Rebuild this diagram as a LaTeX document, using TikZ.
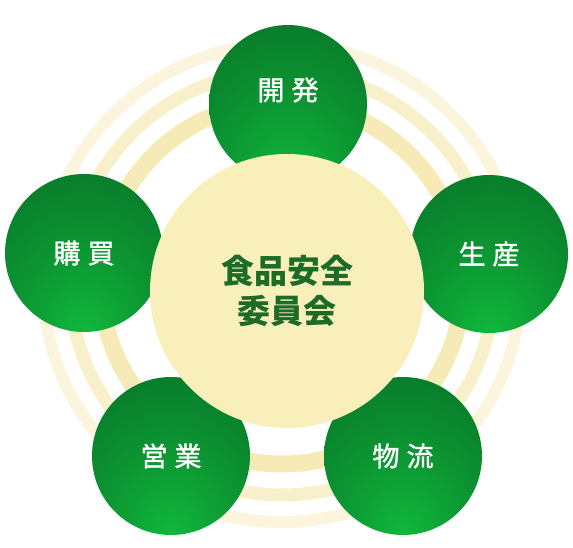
\documentclass[tikz,border=0pt]{standalone}
\usepackage{fontspec}
\newfontfamily\cjk{Noto Sans CJK JP}
\newfontfamily\cjkmid[FakeBold=1.3]{Noto Sans CJK JP}
\definecolor{deptlight}{RGB}{16,184,60}
\definecolor{deptmid}{RGB}{12,150,50}
\definecolor{deptdark}{RGB}{9,124,43}
\definecolor{boardfill}{RGB}{248,239,186}
\definecolor{boardtext}{RGB}{28,108,40}
\definecolor{ringA}{RGB}{246,235,182}
\definecolor{ringB}{RGB}{248,240,202}
\definecolor{ringC}{RGB}{250,245,220}
\pgfdeclareradialshading{deptball}{\pgfpoint{0bp}{-26bp}}{color(0bp)=(deptlight); color(20bp)=(deptmid); color(38bp)=(deptdark); color(70bp)=(deptdark)}
\tikzstyle{deptname}=[text=white, font=\cjkmid\fontsize{27}{27}\selectfont]
\tikzstyle{dept}=[circle, inner sep=0pt, minimum size=158pt, shading=deptball, deptname]
\tikzstyle{board}=[circle, inner sep=0pt, minimum size=274pt, fill=boardfill, text=boardtext,
    align=center, font=\cjk\bfseries\fontsize{33}{40}\selectfont]
\tikzstyle{ring}=[draw, fill=none]
\newcommand{\dept}{\node[dept]}

\begin{document}
\begin{tikzpicture}[x=1pt, y=-1pt]
\useasboundingbox (0,0) rectangle (573,547);
\coordinate (rc) at (282,283);
\draw[ring, ringC, line width=12pt] (rc) circle (239);
\draw[ring, ringB, line width=13pt] (rc) circle (212);
\draw[ring, ringA, line width=17pt] (rc) circle (181);
\dept (dev) at (288,104) [label={[deptname, yshift=14pt]center:開\hspace{7pt}発}] {};
\dept (prod) at (489,254) {生\hspace{7pt}産};
\dept (logi) at (403,456) {物\hspace{7pt}流};
\dept (sales) at (171,456) {営\hspace{7pt}業};
\dept (buy) at (84,253) {購\hspace{7pt}買};
\node[board] (board) at (287,291) {食品安全\\委員会};
\end{tikzpicture}
\end{document}
